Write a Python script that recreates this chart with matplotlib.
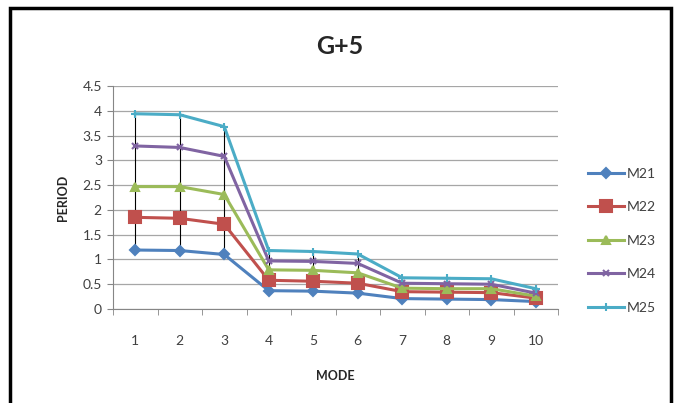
import matplotlib
matplotlib.use("Agg")
import matplotlib.pyplot as plt
import numpy as np
from matplotlib.patches import Rectangle

plt.rcParams['font.family'] = ['Lato', 'DejaVu Sans']

modes = [1, 2, 3, 4, 5, 6, 7, 8, 9, 10]
m21 = [1.19, 1.18, 1.10, 0.37, 0.36, 0.32, 0.21, 0.20, 0.19, 0.15]
m22 = [1.85, 1.83, 1.71, 0.58, 0.56, 0.52, 0.35, 0.34, 0.33, 0.22]
m23 = [2.47, 2.47, 2.31, 0.79, 0.78, 0.73, 0.42, 0.41, 0.41, 0.26]
m24 = [3.29, 3.26, 3.08, 0.97, 0.96, 0.92, 0.52, 0.51, 0.50, 0.32]
m25 = [3.94, 3.92, 3.68, 1.18, 1.16, 1.11, 0.63, 0.62, 0.61, 0.41]

series = [
    ("M21", m21, "#4F81BD", "D", 5),
    ("M22", m22, "#C0504D", "s", 8),
    ("M23", m23, "#9BBB59", "^", 6),
    ("M24", m24, "#8064A2", "x", 5),
    ("M25", m25, "#4BACC6", "+", 6),
]

fig = plt.figure(figsize=(6.8, 4.03), dpi=100)
fig.patch.set_facecolor("white")

# chart frame
fig.patches.append(Rectangle((10 / 680, -0.02), 661 / 680, 1 - 8 / 403 + 0.02,
                             transform=fig.transFigure, fill=False,
                             edgecolor="black", linewidth=2.5))

ax = fig.add_axes([113 / 680, 1 - 309 / 403, (558 - 113) / 680, (309 - 86) / 403])

allv = np.array([m21, m22, m23, m24, m25])
ax.vlines(modes, allv.min(axis=0), allv.max(axis=0), color="black", linewidth=0.8, zorder=2)

for name, vals, col, mk, ms in series:
    ax.plot(modes, vals, color=col, linewidth=2.2, marker=mk, markersize=ms,
            markeredgewidth=1.5, label=name, zorder=3)

ax.set_xlim(0.5, 10.5)
ax.set_ylim(0, 4.5)
ax.set_yticks(np.arange(0, 4.51, 0.5))
ax.set_yticklabels(["0", "0.5", "1", "1.5", "2", "2.5", "3", "3.5", "4", "4.5"])
ax.set_xticks(modes)
ax.set_xticks(np.arange(0.5, 10.6, 1), minor=True)
ax.grid(axis="y", color="#a6a6a6", linewidth=0.9)
ax.set_axisbelow(True)
for s in ["top", "right"]:
    ax.spines[s].set_visible(False)
for s in ["left", "bottom"]:
    ax.spines[s].set_color("#868686")
ax.tick_params(axis="x", which="major", length=0, labelsize=10, colors="#404040", pad=19)
ax.tick_params(axis="x", which="minor", length=4, color="#868686")
ax.tick_params(axis="y", length=4, color="#868686", labelsize=10, labelcolor="#404040", pad=4)

ax.set_xlabel("MODE", fontsize=9, fontweight="bold", color="#262626", labelpad=16)
ax.set_ylabel("PERIOD", fontsize=9, fontweight="bold", color="#262626", labelpad=10)
fig.text(340 / 680, 1 - 47 / 403, "G+5", ha="center", va="center",
         fontsize=18, fontweight="bold", color="#262626")

leg = ax.legend(loc="upper left", bbox_to_anchor=(575 / 680, 1 - 155 / 403),
                bbox_transform=fig.transFigure, frameon=False, fontsize=10,
                labelspacing=1.55, handlelength=2.6, handletextpad=0.2,
                labelcolor="#404040")

fig.savefig("out.png", dpi=100, facecolor="white")
